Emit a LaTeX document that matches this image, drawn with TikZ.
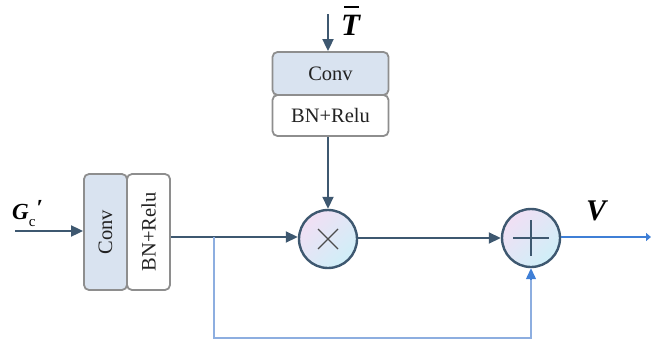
\documentclass[tikz,border=0pt]{standalone}
\usepackage{fontspec}
\setmainfont{Liberation Serif}
\usetikzlibrary{arrows.meta,shadings}
\definecolor{dline}{HTML}{3E5870}
\definecolor{bxborder}{HTML}{8E8E8E}
\definecolor{convfill}{HTML}{D9E3F0}
\definecolor{bline}{HTML}{3F7FD6}
\definecolor{fline}{HTML}{8DAEE0}
\definecolor{cpink}{HTML}{F1DFF4}
\definecolor{ccyan}{HTML}{CFEFF8}
\definecolor{txt}{HTML}{222222}
\tikzset{
  x=1pt,y=-1pt,
  blk/.style={draw=bxborder,line width=1.8pt,rounded corners=5pt,inner sep=0pt,text=txt,font=\fontsize{20.5}{22}\selectfont},
  btx/.style={rotate=90,text=txt,font=\fontsize{20.5}{22}\selectfont},
  opc/.style={circle,draw=dline,line width=2.4pt,minimum size=58pt,inner sep=0pt,left color=cpink,right color=ccyan,shading angle=45},
  dar/.style={draw=dline,line width=1.8pt,-{Triangle[length=12pt,width=11pt]}},
  dln/.style={draw=dline,line width=1.8pt},
  bar/.style={draw=bline,line width=1.3pt,-{Triangle[length=11pt,width=10pt]}},
  fln/.style={draw=fline,line width=1.4pt},
  lbl/.style={font=\bfseries\itshape,inner sep=0pt,anchor=base west}
}
\begin{document}
\begin{tikzpicture}
\useasboundingbox (0,0) rectangle (651,340);
% left blocks
\node[blk,fill=convfill,minimum width=43pt,minimum height=116pt] (lconv) at (105.5,232) {};
\node[btx] at (lconv.center) {Conv};
\node[blk,fill=white,minimum width=43pt,minimum height=116pt] (lbn) at (148.5,232) {};
\node[btx] at (lbn.center) {BN+Relu};
% top blocks
\node[blk,fill=convfill,minimum width=116pt,minimum height=43pt] (tconv) at (330.5,73.5) {Conv};
\node[blk,fill=white,minimum width=116pt,minimum height=41pt] (tbn) at (330.5,115.5) {BN+Relu};
% operators
\node[opc] (mul) at (328,239) {};
\draw[black!70,line width=1.4pt] ([shift={(-10,-10)}]mul.center) -- ([shift={(10,10)}]mul.center)
  ([shift={(-10,10)}]mul.center) -- ([shift={(10,-10)}]mul.center);
\node[opc] (add) at (531,238) {};
\draw[dline,line width=1.6pt] ([xshift=-18pt]add.center) -- ([xshift=18pt]add.center)
  ([yshift=-18pt]add.center) -- ([yshift=18pt]add.center);
% coordinates
\coordinate (gin) at (15,231);
\coordinate (tin) at (328,14);
\coordinate (split) at (214,237);
\coordinate (bl) at (214,338);
\coordinate (br) at (531,338);
\coordinate (vout) at (651,237);
% connectors
\draw[dar] (gin) -- (gin -| lconv.west);
\draw[dar] (tin) -- (tin |- tconv.north);
\draw[dar] (tin |- tbn.south) -- (mul.north);
\draw[dln] (lbn.east |- split) -- (split);
\draw[dar] (split) -- (mul.west |- split);
\draw[dar] (mul.east |- 0,238) -- (add.west);
\draw[fln] (split) -- (bl) -- (br) -- ([yshift=-12pt]add.south);
\draw[bar] ([yshift=-12pt]add.south) -- (add.south);
\draw[draw=bline,line width=1.3pt,-{Triangle[length=5pt,width=8pt]}] (add.east |- vout) -- (vout);
% labels
\node[lbl,font=\fontsize{23}{25}\selectfont\bfseries\itshape] (g) at (12,219) {G\raisebox{-7pt}{\normalfont\fontsize{15}{15}\selectfont c}\hspace{1pt}\raisebox{4pt}{′}};
\node[lbl,font=\fontsize{31}{33}\selectfont\bfseries\itshape] (t) at (341,35) {\rlap{\hspace{3pt}\rule[27pt]{15pt}{2.2pt}}T};
\node[lbl,font=\fontsize{30}{32}\selectfont\bfseries\itshape] (v) at (586,220) {V};
\end{tikzpicture}
\end{document}
